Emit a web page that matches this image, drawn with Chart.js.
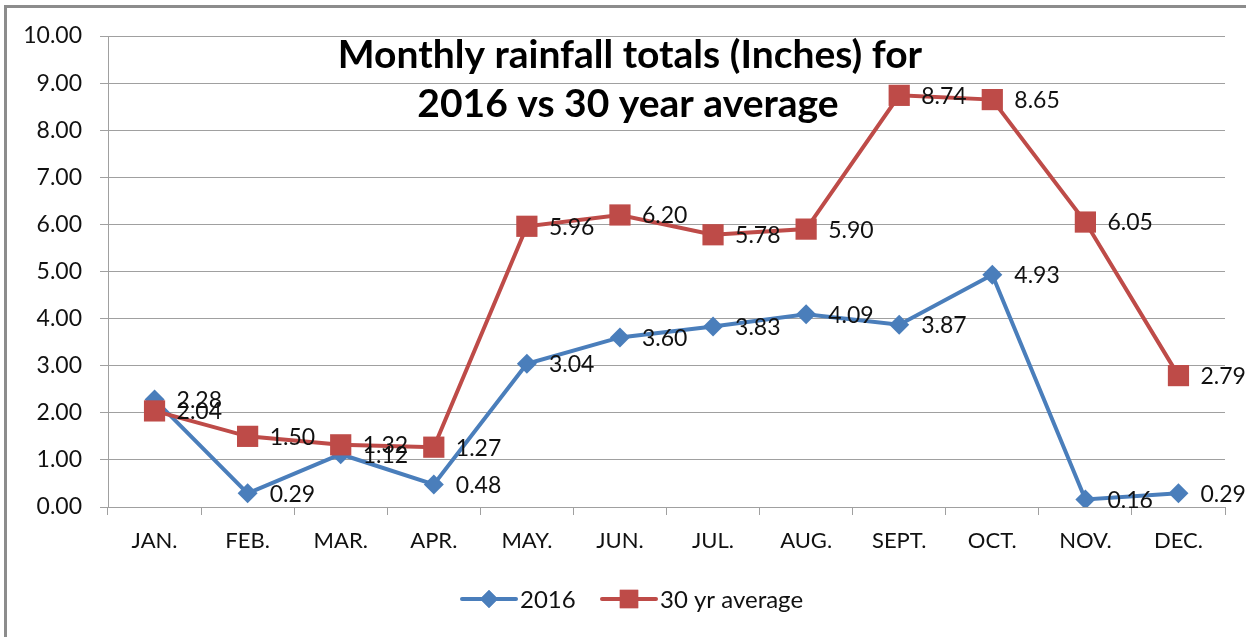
<!DOCTYPE html>
<html>
<head>
<meta charset="utf-8">
<script src="https://cdn.jsdelivr.net/npm/chart.js@4.4.1/dist/chart.umd.min.js"></script>
<style>
  html, body { margin: 0; padding: 0; background: #fff; }
  #wrap { position: relative; width: 1246px; height: 637px; overflow: hidden; }
  #frame { position: absolute; left: 4px; top: 5px; width: 1300px; height: 700px;
           border-left: 3px solid #8c8c8c; border-top: 3px solid #8c8c8c; box-sizing: border-box; }
  canvas { position: absolute; left: 0; top: 0; }
</style>
</head>
<body>
<div id="wrap">
  <div id="frame"></div>
  <canvas id="c" width="1246" height="637"></canvas>
</div>
<script>
const months = ["JAN.", "FEB.", "MAR.", "APR.", "MAY.", "JUN.", "JUL.", "AUG.", "SEPT.", "OCT.", "NOV.", "DEC."];
const rain2016 = [2.28, 0.29, 1.12, 0.48, 3.04, 3.60, 3.83, 4.09, 3.87, 4.93, 0.16, 0.29];
const avg30yr = [2.04, 1.50, 1.32, 1.27, 5.96, 6.20, 5.78, 5.90, 8.74, 8.65, 6.05, 2.79];
const seriesNames = ["2016", "30 yr average"];
const titleLines = ["Monthly rainfall totals (Inches) for", "2016 vs 30 year average"];

const FONT = "Lato, 'Open Sans', sans-serif";
const BLUE = "#4a7ebb";
const RED = "#be4b48";

const overlay = {
  id: 'overlay',
  afterDatasetsDraw(chart) {
    const ctx = chart.ctx;
    ctx.save();
    // data labels
    ctx.font = "23px " + FONT;
    ctx.fillStyle = "#111";
    ctx.textAlign = "left";
    ctx.textBaseline = "middle";
    chart.data.datasets.forEach((ds, i) => {
      const meta = chart.getDatasetMeta(i);
      meta.data.forEach((pt, j) => {
        ctx.fillText(ds.data[j].toFixed(2), pt.x + 22, pt.y + 1);
      });
    });
    // title
    ctx.font = "bold 39px " + FONT;
    ctx.textAlign = "center";
    ctx.fillStyle = "#000";
    ctx.fillText(titleLines[0], 630, 55);
    ctx.fillText(titleLines[1], 628, 104);
    // legend
    const items = [
      { x: 462, color: BLUE, style: 'rectRot', r: 9, text: seriesNames[0] },
      { x: 602, color: RED, style: 'rect', r: 13, text: seriesNames[1] }
    ];
    const ly = 599;
    items.forEach(it => {
      ctx.strokeStyle = it.color;
      ctx.lineWidth = 4;
      ctx.lineCap = 'round';
      ctx.beginPath();
      ctx.moveTo(it.x, ly);
      ctx.lineTo(it.x + 54, ly);
      ctx.stroke();
      ctx.fillStyle = it.color;
      Chart.helpers.drawPoint(ctx, { pointStyle: it.style, radius: it.r, rotation: 0, borderWidth: 0 }, it.x + 27, ly);
      ctx.fill();
      ctx.fillStyle = "#111";
      ctx.font = "24px " + FONT;
      ctx.textAlign = "left";
      ctx.fillText(it.text, it.x + 58, ly + 1);
    });
    ctx.restore();
  }
};

new Chart(document.getElementById('c'), {
  type: 'line',
  data: {
    labels: months,
    datasets: [
      { label: seriesNames[0], data: rain2016, borderColor: BLUE, backgroundColor: BLUE,
        borderWidth: 4, pointStyle: 'rectRot', pointRadius: 10, pointHoverRadius: 10,
        pointBorderWidth: 0, tension: 0, order: 2 },
      { label: seriesNames[1], data: avg30yr, borderColor: RED, backgroundColor: RED,
        borderWidth: 4, pointStyle: 'rect', pointRadius: 15, pointHoverRadius: 15,
        pointBorderWidth: 0, tension: 0, order: 1 }
    ]
  },
  options: {
    responsive: false,
    animation: false,
    events: [],
    layout: { padding: { left: 0, top: 36, right: 21, bottom: 0 } },
    plugins: { legend: { display: false }, title: { display: false }, tooltip: { enabled: false } },
    scales: {
      x: {
        offset: true,
        grid: { display: true, drawOnChartArea: false, drawTicks: true, tickLength: 8, color: '#a0a0a0', offset: true },
        border: { display: false },
        ticks: { color: '#111', font: { family: FONT, size: 22 }, padding: 13, maxRotation: 0, autoSkip: false },
        afterFit(s) { s.height = 130; }
      },
      y: {
        min: 0, max: 10,
        grid: { color: '#a0a0a0', tickLength: 8, lineWidth: 1 },
        border: { display: true, color: '#a0a0a0', width: 1 },
        ticks: { stepSize: 1, color: '#111', font: { family: FONT, size: 23 }, padding: 18,
                 callback: v => Number(v).toFixed(2) },
        afterFit(s) { s.width = 108; }
      }
    }
  },
  plugins: [overlay]
});
</script>
</body>
</html>
